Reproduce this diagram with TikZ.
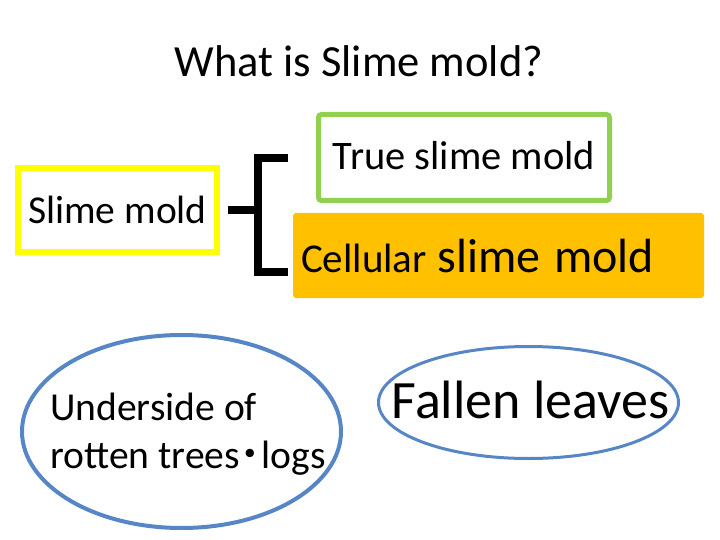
\documentclass[tikz,border=0pt]{standalone}
\usepackage{fontspec}
\setmainfont{Carlito}
\newfontfamily\cjk{Noto Sans CJK JP}
\usepackage{tikz}
\usetikzlibrary{shapes.geometric,positioning}
\definecolor{moldYellow}{RGB}{255,255,0}
\definecolor{moldGreen}{RGB}{146,208,80}
\definecolor{moldOrange}{RGB}{255,192,0}
\definecolor{moldBlue}{RGB}{86,134,198}

\begin{document}
\begin{tikzpicture}[x=1pt,y=-1pt,
    box/.style={rectangle,inner sep=0pt,font=\fontsize{39.5}{47}\selectfont,text height=30pt,text depth=4pt},
    blob/.style={draw=moldBlue},
    brk/.style={line width=7.5pt}]
  \useasboundingbox (0,0) rectangle (720,540);
  % title
  \node[anchor=base,font=\fontsize{44.5}{52}\selectfont] (title) at (359,77) {What is Slime mold?};
  % slime mold and its two kinds
  \node[box,draw=moldYellow,line width=6pt,minimum width=199pt,minimum height=84pt] (slime) at (117.5,210) {Slime mold};
  \node[box,draw=moldGreen,line width=5pt,rounded corners=3pt,minimum width=291pt,minimum height=86pt,font=\fontsize{40.5}{48}\selectfont,text height=29pt] (truemold) at (464,157.5) {True slime mold};
  \node[box,fill=moldOrange,rounded corners=3pt,minimum height=85pt,text width=395pt,inner xsep=8pt,align=left,font=\fontsize{41}{48}\selectfont,text height=34pt,text depth=1pt] (cellmold) at (498.5,255.5) {Cellular\hspace{-3pt} {\fontsize{48}{56}\selectfont slime mold}};
  % bracket
  \coordinate (stub) at (258,210);
  \coordinate (armtop) at (288,158);
  \coordinate (armbot) at (288,272);
  \draw[brk] ([xshift=8pt]slime.east) -- (stub);
  \draw[brk] (armtop) -- ++(-30,0) |- (armbot);
  % where they live
  \node[font=\fontsize{39.6}{48}\selectfont,align=left,text height=78pt,text depth=5pt] (rotten) at (188,431.5) {Underside of\\rotten trees\makebox[0.55em]{\cjk ・}logs};
  \draw[blob,line width=4pt] ([xshift=-6.5pt]rotten.center) ellipse[x radius=159.5pt,y radius=96.5pt];
  \node[font=\fontsize{54}{62}\selectfont,text height=37pt,text depth=5pt] (leaves) at (530.5,402.5) {Fallen leaves};
  \draw[blob,line width=3pt] ([xshift=-2pt]leaves.center) ellipse[x radius=150pt,y radius=56pt];
\end{tikzpicture}
\end{document}
